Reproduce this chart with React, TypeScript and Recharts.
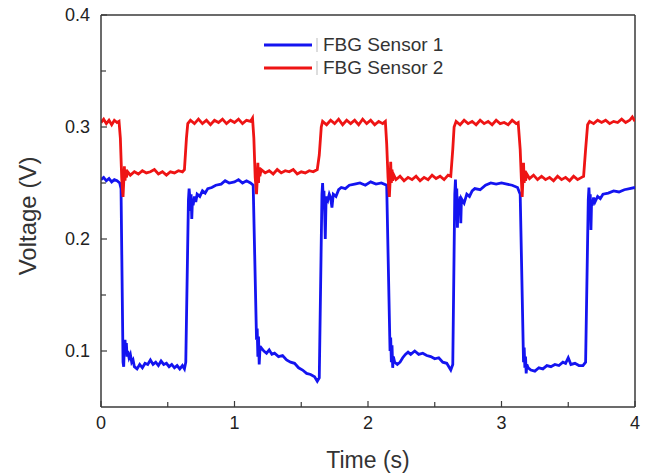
import React from 'react';
import { LineChart, Line, XAxis, YAxis, Label, Legend, ReferenceLine } from 'recharts';

document.body.style.margin = '0';

// Sensor 1 (blue) readings
const S1_TIME = [
  0, 0.02, 0.04, 0.06, 0.08, 0.1, 0.12, 0.14, 0.15,
  0.165, 0.17, 0.175, 0.18, 0.185, 0.19, 0.195, 0.2, 0.21, 0.22, 0.23, 0.24, 0.25, 0.27, 0.29, 0.31, 0.33, 0.35, 0.37, 0.39, 0.41, 0.43, 0.45, 0.47, 0.49, 0.51, 0.53, 0.55, 0.57, 0.59, 0.61, 0.625, 0.635,
  0.655, 0.66, 0.665, 0.67, 0.675, 0.68, 0.685, 0.69, 0.7, 0.71, 0.72, 0.74, 0.76, 0.78, 0.8, 0.83, 0.86, 0.9, 0.93, 0.96, 1.0, 1.03, 1.06, 1.09, 1.12, 1.14,
  1.165, 1.17, 1.175, 1.18, 1.185, 1.19, 1.2, 1.22, 1.24, 1.26, 1.28, 1.3, 1.33, 1.36, 1.39, 1.42, 1.45, 1.48, 1.51, 1.54, 1.57, 1.6, 1.62, 1.635,
  1.655, 1.66, 1.665, 1.67, 1.675, 1.68, 1.685, 1.69, 1.7, 1.71, 1.72, 1.73, 1.74, 1.76, 1.78, 1.8, 1.83, 1.86, 1.9, 1.94, 1.98, 2.02, 2.06, 2.1, 2.14,
  2.165, 2.17, 2.175, 2.18, 2.185, 2.19, 2.2, 2.22, 2.24, 2.26, 2.28, 2.3, 2.32, 2.35, 2.38, 2.41, 2.44, 2.47, 2.5, 2.53, 2.56, 2.59, 2.62, 2.635,
  2.65, 2.655, 2.66, 2.665, 2.67, 2.675, 2.68, 2.69, 2.695, 2.7, 2.72, 2.74, 2.76, 2.78, 2.8, 2.84, 2.88, 2.92, 2.96, 3.0, 3.04, 3.08, 3.12, 3.14,
  3.165, 3.17, 3.175, 3.18, 3.185, 3.19, 3.2, 3.22, 3.25, 3.28, 3.31, 3.34, 3.37, 3.4, 3.43, 3.46, 3.48, 3.5, 3.52, 3.55, 3.58, 3.61, 3.63,
  3.65, 3.655, 3.66, 3.665, 3.67, 3.675, 3.68, 3.69, 3.7, 3.72, 3.74, 3.76, 3.8, 3.84, 3.88, 3.92, 3.96, 4.0,
];
const S1_VOLT = [
  0.253, 0.255, 0.252, 0.254, 0.251, 0.253, 0.252, 0.25, 0.245,
  0.09, 0.086, 0.105, 0.11, 0.098, 0.107, 0.095, 0.1, 0.094, 0.097, 0.09, 0.092, 0.086, 0.084, 0.088, 0.085, 0.089, 0.088, 0.092, 0.088, 0.09, 0.087, 0.091, 0.088, 0.089, 0.086, 0.088, 0.085, 0.087, 0.084, 0.087, 0.084, 0.09,
  0.235, 0.245, 0.238, 0.225, 0.24, 0.218, 0.235, 0.23, 0.238, 0.233, 0.24, 0.238, 0.243, 0.241, 0.245, 0.246, 0.248, 0.249, 0.252, 0.25, 0.251, 0.253, 0.25, 0.252, 0.25, 0.248,
  0.11, 0.12, 0.095, 0.113, 0.088, 0.1, 0.103, 0.1, 0.098, 0.101, 0.097, 0.098, 0.095, 0.096, 0.092, 0.09, 0.089, 0.085, 0.083, 0.08, 0.079, 0.077, 0.073, 0.076,
  0.24, 0.25, 0.235, 0.243, 0.225, 0.2, 0.23, 0.238, 0.235, 0.24, 0.237, 0.228, 0.24, 0.238, 0.244, 0.246, 0.245, 0.248, 0.249, 0.25, 0.248, 0.251, 0.249, 0.25, 0.248,
  0.1, 0.112, 0.09, 0.105, 0.085, 0.095, 0.09, 0.088, 0.09, 0.094, 0.097, 0.099, 0.097, 0.1, 0.097, 0.098, 0.096, 0.095, 0.093, 0.094, 0.09, 0.089, 0.083, 0.088,
  0.24, 0.253, 0.235, 0.245, 0.21, 0.235, 0.228, 0.238, 0.214, 0.236, 0.232, 0.24, 0.238, 0.243, 0.245, 0.244, 0.248, 0.25, 0.249, 0.25, 0.249, 0.248, 0.246, 0.24,
  0.09, 0.103, 0.085, 0.095, 0.08, 0.088, 0.085, 0.083, 0.082, 0.085, 0.084, 0.087, 0.086, 0.088, 0.087, 0.09, 0.089, 0.094, 0.088, 0.089, 0.087, 0.087, 0.09,
  0.235, 0.246, 0.232, 0.24, 0.208, 0.235, 0.23, 0.237, 0.233, 0.238, 0.236, 0.24, 0.241, 0.243, 0.242, 0.244, 0.245, 0.246,
];

// Sensor 2 (red) readings
const S2_TIME = [
  0, 0.02, 0.04, 0.06, 0.08, 0.1, 0.12, 0.135, 0.145, 0.155, 0.16, 0.165, 0.17, 0.175, 0.18, 0.185, 0.19, 0.2, 0.22, 0.25, 0.28, 0.31, 0.34, 0.37, 0.4, 0.43, 0.46, 0.49, 0.52, 0.55, 0.58, 0.61, 0.625,
  0.64, 0.65, 0.67, 0.7, 0.73, 0.76, 0.79, 0.82, 0.85, 0.88, 0.91, 0.94, 0.97, 1.0, 1.03, 1.06, 1.09, 1.12, 1.135,
  1.145, 1.155, 1.165, 1.17, 1.175, 1.18, 1.185, 1.19, 1.2, 1.23, 1.26, 1.29, 1.32, 1.35, 1.38, 1.41, 1.44, 1.47, 1.5, 1.53, 1.56, 1.59, 1.62,
  1.635, 1.65, 1.66, 1.69, 1.72, 1.75, 1.78, 1.81, 1.84, 1.87, 1.9, 1.93, 1.96, 1.99, 2.02, 2.05, 2.08, 2.11, 2.13,
  2.14, 2.15, 2.16, 2.165, 2.17, 2.175, 2.18, 2.185, 2.19, 2.21, 2.24, 2.27, 2.3, 2.33, 2.36, 2.39, 2.42, 2.45, 2.48, 2.51, 2.54, 2.57, 2.6, 2.62,
  2.635, 2.645, 2.66, 2.69, 2.72, 2.75, 2.78, 2.81, 2.84, 2.87, 2.9, 2.93, 2.96, 2.99, 3.02, 3.05, 3.08, 3.11, 3.125,
  3.14, 3.15, 3.155, 3.16, 3.165, 3.17, 3.175, 3.18, 3.19, 3.21, 3.24, 3.27, 3.3, 3.33, 3.36, 3.39, 3.42, 3.45, 3.48, 3.51, 3.54, 3.57, 3.6, 3.615,
  3.63, 3.645, 3.66, 3.69, 3.72, 3.75, 3.78, 3.81, 3.84, 3.87, 3.9, 3.93, 3.96, 3.98, 4.0,
];
const S2_VOLT = [
  0.304, 0.307, 0.303, 0.306, 0.302, 0.306, 0.304, 0.305, 0.29, 0.255, 0.245, 0.2375, 0.25, 0.265, 0.252, 0.262, 0.255, 0.26, 0.257, 0.26, 0.258, 0.261, 0.259, 0.26, 0.262, 0.258, 0.26, 0.257, 0.26, 0.259, 0.261, 0.26, 0.262,
  0.29, 0.303, 0.306, 0.303, 0.307, 0.303, 0.306, 0.302, 0.306, 0.304, 0.307, 0.303, 0.306, 0.304, 0.307, 0.303, 0.306, 0.305, 0.308,
  0.29, 0.255, 0.24, 0.252, 0.268, 0.25, 0.264, 0.256, 0.262, 0.259, 0.261, 0.258, 0.262, 0.259, 0.261, 0.26, 0.262, 0.258, 0.26, 0.259, 0.261, 0.26, 0.262,
  0.275, 0.3, 0.305, 0.302, 0.306, 0.303, 0.307, 0.302, 0.306, 0.303, 0.306, 0.302, 0.307, 0.303, 0.306, 0.302, 0.305, 0.303, 0.305,
  0.285, 0.255, 0.2375, 0.25, 0.269, 0.25, 0.262, 0.252, 0.258, 0.253, 0.256, 0.252, 0.255, 0.253, 0.256, 0.252, 0.255, 0.253, 0.257, 0.254, 0.256, 0.253, 0.257, 0.256,
  0.28, 0.3, 0.305, 0.302, 0.306, 0.303, 0.305, 0.302, 0.306, 0.303, 0.305, 0.302, 0.306, 0.303, 0.304, 0.302, 0.306, 0.303, 0.304,
  0.28, 0.25, 0.2375, 0.252, 0.268, 0.25, 0.261, 0.252, 0.258, 0.254, 0.257, 0.253, 0.256, 0.253, 0.255, 0.252, 0.256, 0.253, 0.255, 0.252, 0.256, 0.253, 0.255, 0.256,
  0.28, 0.302, 0.305, 0.303, 0.306, 0.304, 0.306, 0.303, 0.305, 0.304, 0.307, 0.304, 0.306, 0.309, 0.305,
];

const X_TICKS = [0, 0.5, 1, 1.5, 2, 2.5, 3, 3.5, 4];
const Y_TICKS = [0.1, 0.15, 0.2, 0.25, 0.3, 0.35, 0.4];
const X_DOMAIN = [0, 4];
const Y_DOMAIN = [0.05, 0.4];
const SERIES_NAMES = ['FBG Sensor 1', 'FBG Sensor 2'];

const BLUE = '#1414f0';
const RED = '#ee1414';
const AXIS = '#3a3a3a';
const FONT = '"Liberation Sans", Arial, sans-serif';

const sensor1 = S1_TIME.map((t, i) => ({ t, v: S1_VOLT[i] }));
const sensor2 = S2_TIME.map((t, i) => ({ t, v: S2_VOLT[i] }));

const isMajor = (v: number) => Math.abs(v * 10 - Math.round(v * 10)) < 1e-6;

// ticks drawn pointing into the plot, origin-style
const YTick = ({ x, y, payload }: any) => {
  const major = isMajor(payload.value);
  return (
    <g>
      <line x1={x} x2={x + (major ? 6 : 5)} y1={y} y2={y} stroke={AXIS} strokeWidth={1.2} />
      {major && (
        <text x={x - 11} y={y} dy="0.35em" textAnchor="end" fontSize={18} fill="#222" fontFamily={FONT}>
          {payload.value.toFixed(1)}
        </text>
      )}
    </g>
  );
};

const XTick = ({ x, y, payload }: any) => {
  const major = Number.isInteger(payload.value);
  return (
    <g>
      <line x1={x} x2={x} y1={y} y2={y - (major ? 6 : 5)} stroke={AXIS} strokeWidth={1.2} />
      {major && (
        <text x={x} y={y + 22} textAnchor="middle" fontSize={18} fill="#222" fontFamily={FONT}>
          {payload.value}
        </text>
      )}
    </g>
  );
};

const LegendBox = () => (
  <div style={{ fontFamily: FONT, fontSize: 19, color: '#333' }}>
    {SERIES_NAMES.map((name, i) => (
      <div key={name} style={{ display: 'flex', alignItems: 'center', height: 23 }}>
        <svg width={56} height={23}>
          <line x1={0} x2={48} y1={12} y2={12} stroke={i === 0 ? BLUE : RED} strokeWidth={3} />
          <line x1={53} x2={53} y1={5} y2={19} stroke="#bbb" strokeWidth={1} />
        </svg>
        <span style={{ marginLeft: 3 }}>{name}</span>
      </div>
    ))}
  </div>
);

export default function App() {
  return (
    <LineChart width={647} height={476} margin={{ top: 15, right: 12, left: 0, bottom: 0 }}>
      <XAxis
        dataKey="t"
        type="number"
        domain={X_DOMAIN}
        ticks={X_TICKS}
        interval={0}
        height={69}
        tickSize={0}
        tickMargin={0}
        tickLine={false}
        tick={<XTick />}
        axisLine={{ stroke: AXIS, strokeWidth: 1.5 }}
        allowDataOverflow
      >
        <Label value="Time (s)" position="insideBottom" offset={8} fontSize={23} fill="#333" fontFamily={FONT} />
      </XAxis>
      <YAxis
        type="number"
        domain={Y_DOMAIN}
        ticks={Y_TICKS}
        interval={0}
        width={101}
        tickSize={0}
        tickMargin={0}
        tickLine={false}
        tick={<YTick />}
        axisLine={{ stroke: AXIS, strokeWidth: 1.5 }}
        allowDataOverflow
      >
        <Label
          value="Voltage (V)"
          angle={-90}
          position="insideLeft"
          offset={27}
          dy={5}
          fontSize={24}
          fill="#333"
          fontFamily={FONT}
          style={{ textAnchor: 'middle' }}
        />
      </YAxis>
      {/* frame: top and right borders */}
      <ReferenceLine y={Y_DOMAIN[1]} stroke={AXIS} strokeWidth={1.5} ifOverflow="visible" />
      <ReferenceLine x={X_DOMAIN[1]} stroke={AXIS} strokeWidth={1.5} ifOverflow="visible" />
      <Legend
        layout="vertical"
        align="center"
        verticalAlign="middle"
        content={<LegendBox />}
        wrapperStyle={{ left: 264, top: 33, width: 220 }}
      />
      <Line data={sensor1} dataKey="v" name={SERIES_NAMES[0]} stroke={BLUE} strokeWidth={2.8} dot={false} isAnimationActive={false} />
      <Line data={sensor2} dataKey="v" name={SERIES_NAMES[1]} stroke={RED} strokeWidth={2.8} dot={false} isAnimationActive={false} />
    </LineChart>
  );
}
